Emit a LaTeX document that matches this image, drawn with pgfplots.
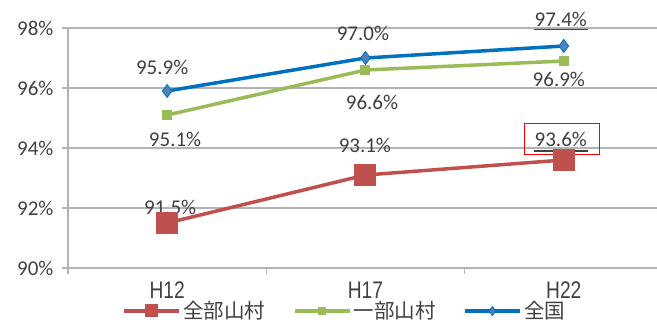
\documentclass[border=0pt]{standalone}
\usepackage{fontspec}
\setmainfont{Carlito}
\newfontfamily\cjk{Noto Sans CJK JP}
\newfontfamily\lib{Liberation Sans}
\usepackage{pgfplots}
\pgfplotsset{compat=1.18}
\definecolor{cred}{HTML}{C0504D}
\definecolor{cgreen}{HTML}{9BBB59}
\definecolor{cblue}{HTML}{0070C0}
\definecolor{cbluem}{HTML}{4F81BD}
\definecolor{txt}{HTML}{404040}
\definecolor{gridc}{HTML}{B3B3B3}
\begin{document}
\begin{tikzpicture}
\begin{axis}[
  name=ax,
  scale only axis, width=589pt, height=240pt,
  xmin=-0.5, xmax=2.47, ymin=90, ymax=98,
  axis x line=bottom, axis y line=left,
  axis line style={-, draw=gridc, line width=1.2pt},
  tick align=outside, major tick length=6pt,
  tick style={draw=gridc, line width=1.2pt},
  ytick={90,92,94,96,98}, ymajorgrids,
  grid style={draw=gridc, line width=1.2pt},
  yticklabel={\pgfmathparse{int(\tick)}\pgfmathresult\%},
  yticklabel style={font=\fontsize{21}{25}\selectfont, text=txt, xshift=-5pt},
  xtick={-0.5,0.5,1.5}, xticklabels={},
  extra x ticks={0,1,2},
  extra x tick labels={\scalebox{0.8}[1]{H12},\scalebox{0.8}[1]{H17},\scalebox{0.8}[1]{H22}},
  extra x tick style={major tick length=0pt, xmajorgrids=false,
    tick label style={font=\lib\fontsize{24}{28}\selectfont, text=txt, yshift=-10pt}},
  clip=false,
  legend columns=3,
  legend style={draw=none, fill=none, at={(0.47,0)}, anchor=center, yshift=-43pt,
    font=\cjk\fontsize{20.5}{24}\selectfont, text=txt,
    /tikz/every even column/.append style={column sep=26pt}},
  legend image code/.code={\draw[mark repeat=2,mark phase=2,#1] plot coordinates {(0pt,0pt) (27pt,0pt) (55pt,0pt)};},
]
\addplot[cred, line width=3.5pt, mark=square*, mark size=10.5pt, mark options={solid, line width=0pt},
  legend image post style={mark size=6pt}] coordinates {(0,91.5) (1,93.1) (2,93.6)};
\addlegendentry{全部山村}
\addplot[cgreen, line width=3.5pt, mark=square*, mark size=4.5pt, mark options={solid, line width=0pt},
  legend image post style={mark size=3.5pt}] coordinates {(0,95.1) (1,96.6) (2,96.9)};
\addlegendentry{一部山村}
\addplot[cblue, line width=3.5pt, mark=diamond*, mark size=6.5pt, mark options={solid, fill=cbluem, draw=cblue, line width=0.8pt},
  legend image post style={mark size=4.5pt}] coordinates {(0,95.9) (1,97.0) (2,97.4)};
\addlegendentry{全国}
\begin{scope}[every node/.style={font=\fontsize{21}{25}\selectfont, text=txt}]
\node at (axis cs:-0.025,96.67) {95.9\%};
\node at (axis cs:0.04,94.27) {95.1\%};
\node at (axis cs:0.015,92.03) {91.5\%};
\node at (axis cs:0.987,97.83) {97.0\%};
\node at (axis cs:1.033,95.53) {96.6\%};
\node at (axis cs:0.997,94.1) {93.1\%};
\node at (axis cs:1.985,98.27) {97.4\%};
\node at (axis cs:1.975,96.3) {96.9\%};
\node at (axis cs:1.985,94.27) {93.6\%};
\end{scope}
\draw[txt, line width=1.3pt] (axis cs:1.848,97.96) -- (axis cs:2.122,97.96);
\draw[txt, line width=1.3pt] (axis cs:1.848,93.9) -- (axis cs:2.122,93.9);
\draw[red, line width=1pt] (axis cs:1.8,94.83) rectangle (axis cs:2.18,93.8);
\end{axis}
\pgfresetboundingbox
\useasboundingbox (ax.south west) ++(-68pt,-58pt) rectangle ++(657pt,326pt);
\end{tikzpicture}
\end{document}
